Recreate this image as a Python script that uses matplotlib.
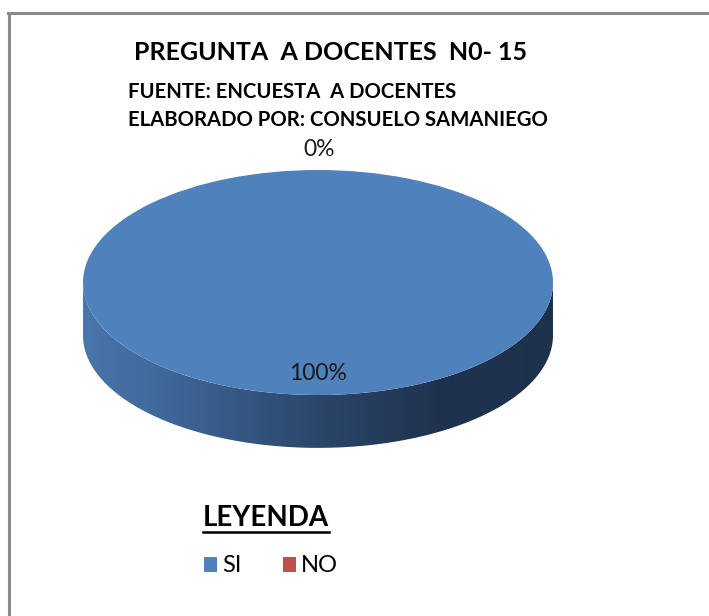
import numpy as np
import matplotlib
matplotlib.use("Agg")
import matplotlib.pyplot as plt
from matplotlib.path import Path
from matplotlib.patches import PathPatch
from matplotlib.lines import Line2D
from matplotlib.colors import LinearSegmentedColormap

categories = ["SI", "NO"]
values = [100, 0]
colors = ["#4F81BD", "#C0504D"]
title = "PREGUNTA  A DOCENTES  N0- 15"
sub1 = "FUENTE: ENCUESTA  A DOCENTES"
sub2 = "ELABORADO POR: CONSUELO SAMANIEGO"
legend_title = "LEYENDA"

W, H = 709, 616
fig = plt.figure(figsize=(W / 100, H / 100), dpi=100)
fig.patch.set_facecolor("white")
FONT = "Lato"

def fx(px):
    return px / W

def fy(py):
    return 1 - py / H

# frame lines (top and left)
fig.add_artist(Line2D([fx(8), 1], [fy(13), fy(13)], color="#8a8a8a", lw=2.2))
fig.add_artist(Line2D([fx(9), fx(9)], [fy(13), 0], color="#8a8a8a", lw=2.2))

# titles
fig.text(fx(331), fy(52), title, ha="center", va="center", fontsize=18,
         fontweight="bold", family=FONT)
fig.text(fx(128), fy(92), sub1, ha="left", va="center", fontsize=14.6,
         fontweight="bold", family=FONT)
fig.text(fx(128), fy(120), sub2, ha="left", va="center", fontsize=14.6,
         fontweight="bold", family=FONT)

# pie axes: unit circle -> ellipse (x: 83..553 px, y: 170..395 px), depth below
depth = 0.47
left_px, right_px, top_px = 83, 553, 170
unit_y = (395 - 170) / 2.0
bottom_px = 395 + depth * unit_y
ax = fig.add_axes([fx(left_px), fy(bottom_px), (right_px - left_px) / W,
                   (bottom_px - top_px) / H])

# side band (gradient)
t = np.linspace(np.pi, 2 * np.pi, 200)
upper = np.column_stack([np.cos(t), np.sin(t)])
lower = np.column_stack([np.cos(t[::-1]), np.sin(t[::-1]) - depth])
verts = np.vstack([upper, lower, upper[:1]])
codes = [Path.MOVETO] + [Path.LINETO] * (len(verts) - 2) + [Path.CLOSEPOLY]
band = PathPatch(Path(verts, codes), facecolor="none", edgecolor="none")
ax.add_patch(band)
cmap = LinearSegmentedColormap.from_list(
    "side", ["#4a76ad", "#3a6090", "#2b4669", "#1f3350", "#1e314c"])
grad = np.linspace(0, 1, 256).reshape(1, -1)
im = ax.imshow(grad, cmap=cmap, extent=[-1, 1, -1 - depth, 0], aspect="auto",
               zorder=1)
im.set_clip_path(band)

# top face
wedges, _ = ax.pie(values, colors=colors, startangle=90, counterclock=False,
                   radius=1, center=(0, 0), frame=True,
                   wedgeprops=dict(linewidth=0, zorder=2))
ax.set_xlim(-1, 1)
ax.set_ylim(-1 - depth, 1)
ax.set_aspect("auto")
ax.axis("off")

total = sum(values)
pcts = [f"{v / total * 100:.0f}%" for v in values]
fig.text(fx(318), fy(374), pcts[0], ha="center", va="center", fontsize=16.5,
         family=FONT, color="#1a1a1a")
fig.text(fx(319), fy(150), pcts[1], ha="center", va="center", fontsize=16.5,
         family=FONT, color="#1a1a1a")

# legend
fig.text(fx(203), fy(518), legend_title, ha="left", va="center", fontsize=20,
         fontweight="bold", family=FONT)
fig.add_artist(Line2D([fx(203), fx(329)], [fy(532), fy(532)], color="black",
                      lw=1.8))
leg = fig.legend(wedges, categories, loc="center left",
                 bbox_to_anchor=(fx(204), fy(566)), ncol=2, frameon=False,
                 borderpad=0, borderaxespad=0,
                 handlelength=0.55, handleheight=0.6, handletextpad=0.22,
                 columnspacing=1.75, prop=dict(family=FONT, size=17))

fig.savefig("out.png", dpi=100, facecolor="white")
